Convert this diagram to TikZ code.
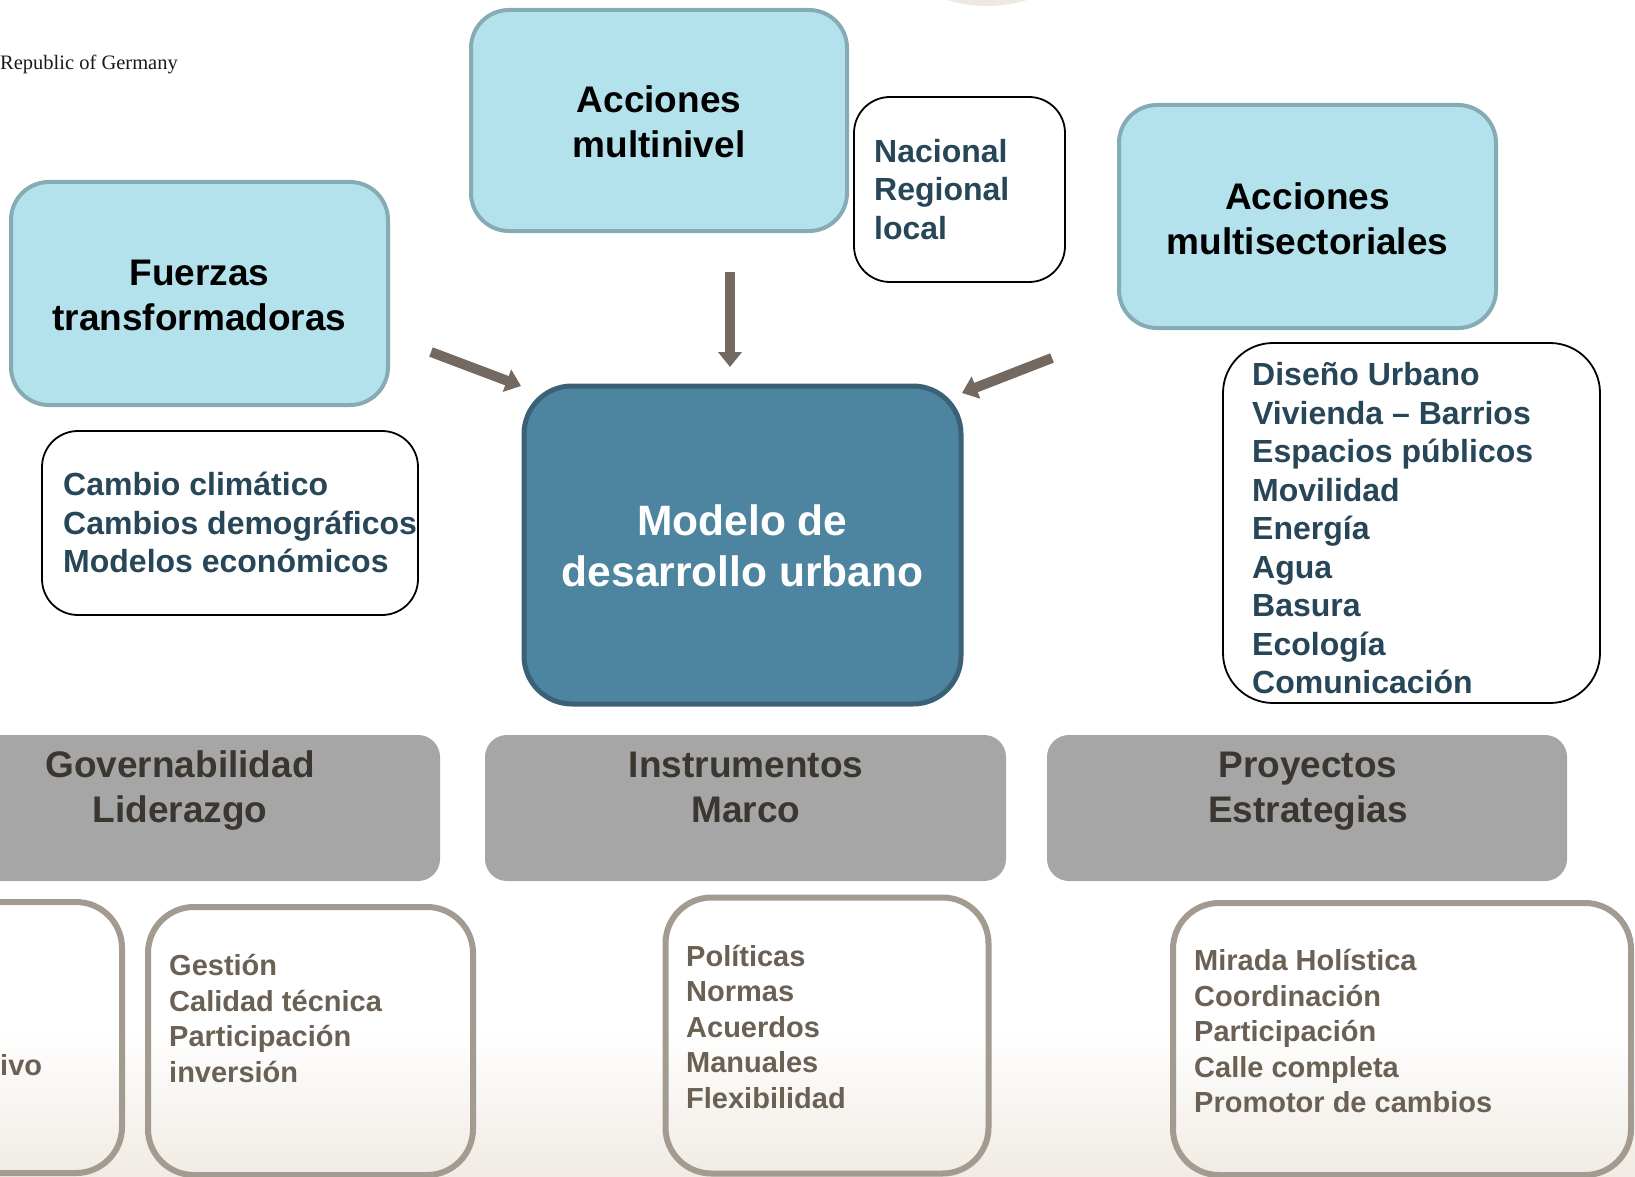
\documentclass[tikz,border=0pt]{standalone}
\usepackage{fontspec}
\setmainfont{Liberation Sans}
\newfontfamily\repserif{Liberation Serif}
\usetikzlibrary{arrows.meta}
\definecolor{bluefill}{HTML}{B4E2EC}
\definecolor{blueedge}{HTML}{85ABB5}
\definecolor{modelfill}{HTML}{4D85A0}
\definecolor{modeledge}{HTML}{3A6175}
\definecolor{bargrey}{HTML}{A6A6A6}
\definecolor{bartext}{HTML}{3B3630}
\definecolor{brownedge}{HTML}{A39A90}
\definecolor{browntext}{HTML}{6A6054}
\definecolor{listblue}{HTML}{274657}
\definecolor{arrowbrown}{HTML}{736960}
\definecolor{bgbeige}{HTML}{F0EBE4}
\definecolor{topcirc}{HTML}{EEE9DF}
\tikzset{
  bluebox/.style={fill=bluefill, draw=blueedge, line width=4pt, rounded corners=38pt, inner sep=0pt, align=center,
    font=\fontsize{37}{45}\selectfont\bfseries, text=black},
  listbox/.style={draw=black, line width=1.8pt, rounded corners=36pt, inner sep=0pt},
  modelbox/.style={fill=modelfill, draw=modeledge, line width=5pt, rounded corners=48pt, inner sep=0pt, align=center,
    font=\fontsize{42.5}{51}\selectfont\bfseries, text=white},
  greybar/.style={fill=bargrey, rounded corners=22pt, inner sep=0pt},
  bartitle/.style={align=center, inner sep=0pt, font=\fontsize{37}{45}\selectfont\bfseries, text=bartext},
  brownbox/.style={draw=brownedge, line width=6pt, rounded corners=46pt, inner sep=0pt},
  browntxt/.style={align=left, anchor=west, inner sep=0pt, font=\fontsize{29}{35.5}\selectfont\bfseries, text=browntext},
  bluetxt/.style={align=left, anchor=west, inner sep=0pt, font=\fontsize{32}{38.5}\selectfont\bfseries, text=listblue},
  bigarrow/.style={draw=arrowbrown, line width=10pt, -{Triangle[width=23pt,length=15pt]}}
}
\begin{document}
\begin{tikzpicture}[x=1pt,y=-1pt]
\useasboundingbox (0,0) rectangle (1635,1177);
\clip (0,0) rectangle (1635,1177);
% background
\shade[top color=white, bottom color=bgbeige] (0,1030) rectangle (1635,1177);
\fill[topcirc] (987,-130) circle [radius=136pt];
\node[anchor=west, inner sep=0pt, font=\repserif\fontsize{20.5}{24}\selectfont, text=black!90] (rep) at (0,64) {Republic of Germany};

% top boxes
\node[bluebox, minimum width=376pt, minimum height=221pt] (multinivel) at (659,120.5) {};
\node[bluebox, draw=none, fill=none] (multitxt) at (659,122) {Acciones\\multinivel};
\node[listbox, minimum width=211pt, minimum height=185pt] (niveles) at (959.5,189.5) {};
\node[bluetxt] (nivtxt) at (874,189.5) {Nacional\\Regional\\local};
\node[bluebox, minimum width=377pt, minimum height=223pt] (multisect) at (1307.5,216.5) {};
\node[bluebox, draw=none, fill=none] (multisecttxt) at (1307.5,218.5) {Acciones\\multisectoriales};
\node[bluebox, minimum width=377pt, minimum height=223pt] (fuerzas) at (199.5,293.5) {};
\node[bluebox, draw=none, fill=none] (fuerzastxt) at (199.5,295.5) {Fuerzas\\transformadoras};

\node[listbox, minimum width=376pt, minimum height=184pt] (cambio) at (230,523) {};
\node[bluetxt] (cambiotxt) at (63,522.5) {Cambio climático\\Cambios demográficos\\Modelos económicos};

\node[modelbox, minimum width=437pt, minimum height=318pt] (modelo) at (742.5,545) {};
\node[modelbox, draw=none, fill=none] (modelotxt) at (742.5,546) {Modelo de\\desarrollo urbano};

\node[listbox, rounded corners=50pt, minimum width=377pt, minimum height=360pt] (sectores) at (1411.5,523) {};
\node[bluetxt] (sectxt) at (1252,528.5) {Diseño Urbano\\Vivienda – Barrios\\Espacios públicos\\Movilidad\\Energía\\Agua\\Basura\\Ecología\\Comunicación};

% arrows
\coordinate (a1s) at (431,352);
\coordinate (a1e) at (521,386);
\coordinate (a2s) at (730,272);
\coordinate (a2e) at (730,367);
\coordinate (a3s) at (1052,358);
\coordinate (a3e) at (962,393);
\draw[bigarrow] (a1s) -- (a1e);
\draw[bigarrow] (a2s) -- (a2e);
\draw[bigarrow] (a3s) -- (a3e);

% grey bars
\node[greybar, minimum width=500pt, minimum height=146pt] (gov) at (190,808) {};
\node[bartitle] (govtxt) at (180,791) {Governabilidad\\Liderazgo};
\node[greybar, minimum width=521pt, minimum height=146pt] (instr) at (745.5,808) {};
\node[bartitle] (instrtxt) at (746,787.5) {Instrumentos\\Marco};
\node[greybar, minimum width=520pt, minimum height=146pt] (proy) at (1307,808) {};
\node[bartitle] (proytxt) at (1308,791) {Proyectos\\Estrategias};

% bottom boxes
\node[brownbox, minimum width=372pt, minimum height=271pt] (partial) at (-64,1037.5) {};
\node[browntxt] (ivotxt) at (0,1065) {ivo};
\node[brownbox, minimum width=325pt, minimum height=268pt] (gestion) at (310.5,1041) {};
\node[browntxt] (gestxt) at (169,1018.5) {Gestión\\Calidad técnica\\Participación\\inversión};
\node[brownbox, minimum width=323pt, minimum height=276pt] (politicas) at (827,1035.5) {};
\node[browntxt] (poltxt) at (686,1026.5) {Políticas\\Normas\\Acuerdos\\Manuales\\Flexibilidad};
\node[brownbox, minimum width=458pt, minimum height=272pt] (mirada) at (1402,1039) {};
\node[browntxt] (mirtxt) at (1194,1031) {Mirada Holística\\Coordinación\\Participación\\Calle completa\\Promotor de cambios};
\end{tikzpicture}
\end{document}
